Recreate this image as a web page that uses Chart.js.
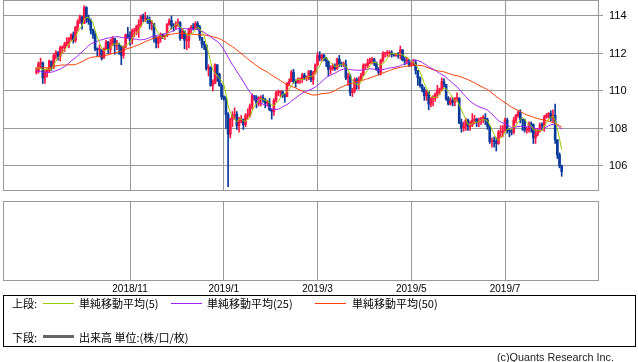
<!DOCTYPE html>
<html lang="ja">
<head>
<meta charset="utf-8">
<script src="https://cdn.jsdelivr.net/npm/chart.js@4.4.1/dist/chart.umd.min.js"></script>
<style>
  html, body { margin: 0; padding: 0; background: #fff; }
  #wrap { position: relative; width: 638px; height: 362px; overflow: hidden; font-family: "Noto Sans CJK JP", sans-serif; }
  #priceChart { position: absolute; left: 0; top: 0; }
  #volChart { position: absolute; left: 0; top: 196px; }
  .box { position: absolute; left: 3px; top: 295px; width: 633px; height: 52px; box-sizing: border-box; border: 1px solid #000; }
  .lg { position: absolute; font-size: 11px; line-height: 14px; white-space: nowrap; color: #000; }
  .sw { position: absolute; height: 1px; }
  .copy { position: absolute; left: 497px; top: 350px; font: 10.8px "Liberation Sans", sans-serif; line-height: 14px; color: #222; white-space: nowrap; }
</style>
</head>
<body>
<div id="wrap">
  <canvas id="priceChart" width="638" height="195"></canvas>
  <canvas id="volChart" width="638" height="100"></canvas>
  <div class="box"></div>
  <div class="lg" style="left:12px; top:296px;">上段:</div>
  <div class="sw" style="left:43px; top:303px; width:31px; background:#99cc00;"></div>
  <div class="lg" style="left:79px; top:296px;">単純移動平均(5)</div>
  <div class="sw" style="left:171px; top:303px; width:31px; background:#a020f0;"></div>
  <div class="lg" style="left:207px; top:296px;">単純移動平均(25)</div>
  <div class="sw" style="left:315px; top:303px; width:31px; background:#ff3c00;"></div>
  <div class="lg" style="left:352px; top:296px;">単純移動平均(50)</div>
  <div class="lg" style="left:12px; top:330px;">下段:</div>
  <div class="sw" style="left:43px; top:335px; width:31px; height:3px; background:#666;"></div>
  <div class="lg" style="left:79px; top:330px;">出来高 単位:(株/口/枚)</div>
  <div class="copy">(c)Quants Research Inc.</div>
</div>
<script>
// USD/JPY daily candles, 2018/9/3 .. 2019/8/6 (weekdays)
const closes = [
  // 2018/9
  111.05,111.45,111.5,110.7,111.0,111.1,111.6,111.3,111.9,112.05,111.85,112.3,112.3,112.5,112.6,112.8,113.0,112.7,113.4,113.7,
  // 2018/10
  113.95,113.6,114.45,113.9,113.7,113.25,113.0,112.25,112.2,112.2,111.75,112.25,112.6,112.2,112.55,112.8,112.45,112.45,112.4,111.9,112.35,113.0,112.9,
  // 2018/11
  112.7,113.2,113.2,113.45,113.55,114.0,113.85,113.85,113.8,113.6,113.6,112.85,112.55,112.8,113.0,112.9,112.95,113.55,113.75,113.5,113.45,113.55,
  // 2018/12
  113.65,112.8,113.2,112.7,112.7,113.3,113.4,113.35,113.6,113.4,112.85,112.5,112.45,111.2,111.25,110.3,110.4,111.4,110.9,110.3,109.7,
  // 2019/1
  109.6,108.75,107.7,108.5,108.7,108.75,108.15,108.4,108.5,108.2,108.7,108.7,109.2,109.75,109.65,109.35,109.6,109.65,109.55,109.35,109.35,109.0,108.9,
  // 2019/2
  109.5,109.9,109.95,109.95,109.8,109.7,110.4,110.5,111.0,110.5,110.45,110.6,110.6,110.85,110.7,110.7,111.05,110.6,111.0,111.4,
  // 2019/3
  111.9,111.75,111.9,111.75,111.6,111.15,111.2,111.35,111.2,111.7,111.45,111.4,111.4,110.7,110.8,109.9,110.0,110.6,110.5,110.6,110.85,
  // 2019/4
  111.35,111.35,111.5,111.65,111.7,111.5,111.15,111.0,111.65,112.0,112.0,112.0,112.05,111.95,111.9,111.95,111.9,112.2,111.65,111.6,111.65,111.4,
  // 2019/5
  111.45,111.5,111.1,110.7,110.3,110.1,109.75,109.95,109.3,109.6,109.6,109.85,110.05,110.05,110.5,110.35,109.6,109.3,109.5,109.4,109.6,109.6,108.3,
  // 2019/6
  108.05,108.15,108.45,108.1,108.2,108.45,108.5,108.35,108.4,108.55,108.55,108.45,108.1,107.3,107.35,107.3,107.2,107.8,107.8,107.85,
  // 2019/7
  108.45,107.9,107.85,107.8,108.45,108.7,108.85,108.5,108.45,107.9,107.9,108.25,108.2,107.5,107.7,107.9,108.2,108.15,108.6,108.7,108.8,108.55,108.7,
  // 2019/8
  107.4,106.6,106.0,105.7
];
const highs = [
  111.25,111.55,111.75,111.55,111.15,111.2,111.65,111.55,112.0,112.15,112.1,112.4,112.4,112.6,112.85,112.85,113.05,113.15,113.45,113.8,
  114.05,114.0,114.55,114.5,114.05,113.85,113.3,113.2,112.3,112.45,112.2,112.3,112.7,112.65,112.75,112.9,112.8,112.7,112.55,112.4,112.4,113.05,113.4,
  113.15,113.3,113.35,113.5,113.8,114.05,114.1,114.2,114.0,113.95,113.75,113.6,112.9,112.9,113.1,113.05,113.0,113.6,113.85,114.0,113.6,113.7,
  113.85,113.7,113.3,113.15,113.0,113.35,113.5,113.6,113.7,113.7,113.5,112.85,112.65,112.45,111.4,111.3,110.6,111.45,111.4,110.95,110.4,
  109.75,109.7,108.85,108.55,108.9,109.1,108.9,108.6,108.7,108.5,108.8,109.05,109.3,109.85,109.75,109.75,109.7,109.75,109.8,109.6,109.5,109.6,109.05,
  109.6,110.0,110.05,110.0,110.0,109.85,110.45,110.65,111.1,111.15,110.6,110.7,110.7,110.95,110.95,110.8,111.1,111.1,111.05,111.45,
  112.05,112.1,111.95,111.95,111.8,111.6,111.35,111.45,111.45,111.75,111.9,111.55,111.55,111.65,110.95,110.9,110.15,110.7,110.7,110.75,110.95,
  111.45,111.45,111.7,111.75,111.8,111.75,111.55,111.25,111.7,112.1,112.05,112.15,112.15,112.15,112.0,112.0,112.05,112.4,112.2,111.8,111.8,111.7,
  111.55,111.7,111.65,110.95,110.75,110.35,110.2,110.05,109.95,109.65,109.75,109.9,110.3,110.15,110.7,110.65,110.35,109.7,109.65,109.65,109.65,109.9,109.65,
  108.5,108.35,108.55,108.5,108.4,108.8,108.7,108.55,108.55,108.6,108.7,108.8,108.55,108.15,107.5,107.55,107.5,107.9,108.15,108.15,
  108.55,108.55,108.0,107.95,108.6,108.75,108.95,109.0,108.5,108.5,108.05,108.35,108.35,108.25,108.0,108.0,108.3,108.3,108.7,108.8,108.85,108.95,109.0,
  109.3,107.4,106.7,106.05
];
const lows = [
  110.9,110.95,111.2,110.4,110.4,110.75,111.0,111.1,111.2,111.7,111.65,111.6,112.0,112.1,112.4,112.3,112.7,112.55,112.6,113.2,
  113.6,113.3,113.6,113.65,113.55,113.05,112.8,112.15,111.85,111.85,111.65,111.75,112.2,112.0,112.0,112.4,111.95,112.2,111.95,111.4,111.75,112.3,112.8,
  112.45,112.5,112.9,113.0,112.85,113.4,113.7,113.7,113.6,113.3,113.25,112.6,112.3,112.3,112.6,112.8,112.75,112.9,113.5,113.3,113.2,113.3,
  113.45,112.7,112.8,112.25,112.2,112.3,113.1,113.25,113.3,113.3,112.7,112.3,112.2,111.1,110.8,110.25,110.0,110.4,110.5,110.25,109.55,
  109.5,108.0,104.9,107.5,108.1,108.5,107.95,107.8,108.3,107.95,108.1,108.5,108.6,109.05,109.5,109.1,109.2,109.2,109.4,109.1,109.2,108.95,108.5,
  108.7,109.4,109.75,109.7,109.65,109.4,109.7,110.3,110.5,110.4,110.2,110.4,110.4,110.45,110.6,110.55,110.6,110.5,110.35,110.9,
  111.35,111.6,111.6,111.6,111.3,110.8,110.9,111.1,111.1,111.15,111.3,111.3,111.3,110.6,110.3,109.75,109.7,109.9,110.1,110.1,110.55,
  110.8,111.15,111.25,111.45,111.45,111.35,111.1,110.85,110.85,111.55,111.8,111.85,111.85,111.8,111.85,111.85,111.75,111.7,111.6,111.4,111.45,111.3,
  111.3,111.35,110.9,110.3,110.2,109.95,109.5,109.5,109.0,109.15,109.2,109.45,109.65,109.8,110.0,110.2,109.5,109.25,109.25,109.2,109.2,109.45,108.25,
  107.8,107.85,107.9,107.9,107.9,108.1,108.25,108.1,108.1,108.2,108.3,108.2,107.95,107.2,107.0,107.0,106.8,107.15,107.55,107.55,
  107.9,107.75,107.55,107.65,107.7,108.3,108.6,108.3,107.9,107.8,107.75,107.8,107.8,107.2,107.2,107.6,107.8,107.9,107.85,108.55,108.55,108.4,108.35,
  107.2,106.4,105.9,105.45
];
// closes before the visible range (2018/6/25 .. 2018/8/31), only used to seed the moving averages
const warmupCloses = [
  109.7,110.1,110.3,110.5,110.7,
  110.9,110.5,110.5,110.6,110.5,110.9,111.0,112.0,112.5,112.4,112.3,112.9,112.9,112.5,111.4,111.3,111.2,111.0,111.0,111.1,111.0,111.9,
  111.7,111.7,111.2,111.4,111.4,111.0,111.1,110.9,110.7,111.2,110.7,110.9,110.5,110.1,110.3,110.5,111.3,111.2,111.1,111.2,111.7,111.0,111.0
];
// FX: each day opens where the previous one closed
const opens = closes.map((c, i) => i === 0 ? warmupCloses[warmupCloses.length - 1] : closes[i - 1]);

const priceTicks = [106, 108, 110, 112, 114];
const tickMonths = ['2018/11', '2019/1', '2019/3', '2019/5', '2019/7'];

const UP = '#ff1744';
const DOWN = '#0a3a9c';
const GRID = '#999';
const X_MIN = -15.25, X_MAX = 257.65;

const dates = [];
{
  const d = new Date(Date.UTC(2018, 8, 3));
  while (dates.length < closes.length) {
    const wd = d.getUTCDay();
    if (wd !== 0 && wd !== 6) dates.push(`${d.getUTCFullYear()}/${d.getUTCMonth() + 1}/${d.getUTCDate()}`);
    d.setUTCDate(d.getUTCDate() + 1);
  }
}
const monthIdx = tickMonths.map(m => dates.findIndex(s => s.startsWith(m + '/')));

const allCloses = warmupCloses.concat(closes);
function sma(n) {
  return closes.map((_, i) => {
    const end = warmupCloses.length + i;
    let s = 0;
    for (let k = end - n + 1; k <= end; k++) s += allCloses[k];
    return { x: i, y: s / n };
  });
}

const candleColor = closes.map((c, i) => c >= opens[i] ? UP : DOWN);

// draws the gray frame round each panel
const framePlugin = {
  id: 'frame',
  beforeDatasetsDraw(chart) {
    const { ctx, chartArea: a } = chart;
    ctx.save();
    ctx.strokeStyle = GRID;
    ctx.lineWidth = 1;
    ctx.strokeRect(a.left + 0.5, a.top + 0.5, a.right - a.left, a.bottom - a.top);
    ctx.restore();
  }
};

function maLine(n, color, order) {
  return {
    type: 'line', data: sma(n), borderColor: color, borderWidth: 1,
    pointRadius: 0, tension: 0, order: order
  };
}

new Chart(document.getElementById('priceChart'), {
  type: 'bar',
  data: {
    datasets: [
      maLine(5, '#99cc00', 0),
      maLine(25, '#a020f0', 1),
      maLine(50, '#ff3c00', 2),
      {
        data: closes.map((c, i) => ({ x: i, y: [opens[i], c] })),
        backgroundColor: candleColor, borderWidth: 0,
        barThickness: 2, minBarLength: 1, grouped: false, order: 3
      },
      {
        data: closes.map((c, i) => ({ x: i, y: [lows[i], highs[i]] })),
        backgroundColor: candleColor, borderWidth: 0,
        barThickness: 1, grouped: false, order: 4
      }
    ]
  },
  options: {
    responsive: false,
    animation: false,
    events: [],
    layout: { padding: { left: 3, top: 0, right: 0, bottom: 5 } },
    plugins: { legend: { display: false }, tooltip: { enabled: false } },
    scales: {
      x: {
        type: 'linear', min: X_MIN, max: X_MAX, offset: false,
        afterBuildTicks: s => { s.ticks = monthIdx.map(v => ({ value: v })); },
        afterFit: s => { s.height = 0; s.paddingLeft = 0; s.paddingRight = 0; },
        ticks: { display: false },
        grid: { color: GRID, drawTicks: false, offset: false },
        border: { display: false }
      },
      y: {
        position: 'right', min: 104.72, max: 114.853,
        afterBuildTicks: s => { s.ticks = priceTicks.map(v => ({ value: v })); },
        afterFit: s => { s.width = 40; s.paddingTop = 0; s.paddingBottom = 0; },
        ticks: { color: '#000', padding: 6, font: { family: 'Liberation Sans', size: 11 } },
        grid: { color: GRID, tickLength: 5 },
        border: { display: false }
      }
    }
  },
  plugins: [framePlugin]
});

new Chart(document.getElementById('volChart'), {
  type: 'bar',
  data: { datasets: [{ label: '出来高', data: [], backgroundColor: '#666' }] },
  options: {
    responsive: false,
    animation: false,
    events: [],
    layout: { padding: { left: 3, top: 5, right: 40, bottom: 0 } },
    plugins: { legend: { display: false }, tooltip: { enabled: false } },
    scales: {
      x: {
        type: 'linear', min: X_MIN, max: X_MAX, offset: false,
        afterBuildTicks: s => { s.ticks = monthIdx.map(v => ({ value: v })); },
        afterFit: s => { s.height = 16; s.paddingLeft = 0; s.paddingRight = 0; },
        ticks: {
          color: '#000', padding: 3, autoSkip: false, maxRotation: 0,
          font: { family: 'Liberation Sans', size: 10 },
          callback: v => tickMonths[monthIdx.indexOf(v)]
        },
        grid: { color: GRID, drawTicks: false, offset: false },
        border: { display: false }
      },
      y: { display: false, min: 0, max: 1 }
    }
  },
  plugins: [framePlugin]
});
</script>
</body>
</html>
